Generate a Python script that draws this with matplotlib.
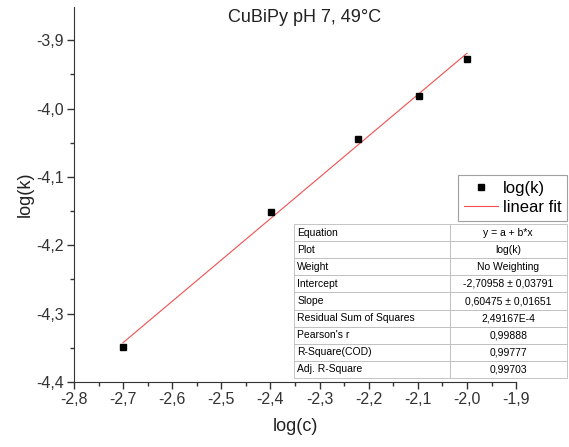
import numpy as np
import matplotlib
matplotlib.use("Agg")
import matplotlib.pyplot as plt
from matplotlib.ticker import MultipleLocator, FuncFormatter

# ==========================================================
# DATA
# ==========================================================

log_c = [-2.70, -2.398, -2.222, -2.097, -2.00]
log_k = [-4.349, -4.152, -4.045, -3.981, -3.928]

fit_intercept = -2.70958
fit_slope = 0.60475

table_labels = [
    "Equation", "Plot", "Weight", "Intercept", "Slope",
    "Residual Sum of Squares", "Pearson's r", "R-Square(COD)", "Adj. R-Square",
]
table_values = [
    "y = a + b*x", "log(k)", "No Weighting",
    "-2,70958 \u00b1 0,03791", "0,60475 \u00b1 0,01651",
    "2,49167E-4", "0,99888", "0,99777", "0,99703",
]

# ==========================================================
# PLOT
# ==========================================================

plt.rcParams["font.family"] = ["Liberation Sans", "DejaVu Sans"]

fig = plt.figure(figsize=(5.69, 4.47), dpi=100)
ax = fig.add_axes([0.130, 0.1454, 0.777, 0.838])

fit_x = np.array([min(log_c), max(log_c)])
ax.plot(fit_x, fit_intercept + fit_slope * fit_x,
        color="#f05050", linewidth=0.8, label="linear fit", zorder=2)
ax.plot(log_c, log_k, linestyle="none", marker="s", markersize=5,
        color="black", label="log(k)", zorder=3)

ax.set_xlim(-2.8, -1.9)
ax.set_ylim(-4.4, -3.852)

ax.xaxis.set_major_locator(MultipleLocator(0.1))
ax.xaxis.set_minor_locator(MultipleLocator(0.05))
ax.yaxis.set_major_locator(MultipleLocator(0.1))
ax.yaxis.set_minor_locator(MultipleLocator(0.05))

comma = FuncFormatter(lambda v, p: f"{v:.1f}".replace(".", ","))
ax.xaxis.set_major_formatter(comma)
ax.yaxis.set_major_formatter(comma)

ax.tick_params(which="major", direction="out", length=5, width=1,
               labelsize=11.5, colors="#333333", pad=2)
ax.tick_params(which="minor", direction="out", length=3, width=1,
               colors="#333333")

ax.spines["top"].set_visible(False)
ax.spines["right"].set_visible(False)
ax.spines["left"].set_color("#333333")
ax.spines["bottom"].set_color("#333333")

ax.set_xlabel("log(c)", fontsize=13, color="#222222")
ax.set_ylabel("log(k)", fontsize=13, color="#222222")
ax.xaxis.set_label_coords(0.5, -0.097)
ax.yaxis.set_label_coords(-0.0905, 0.5)

fig.text(305 / 569, 1 - 18 / 447, "CuBiPy pH 7, 49\u00b0C", fontsize=13,
         ha="center", va="center", color="#222222")

handles, labels = ax.get_legend_handles_labels()
leg = fig.legend(handles[::-1], labels[::-1],
                 loc="upper right", bbox_to_anchor=(0.9965, 0.6085),
                 fontsize=12, frameon=True, fancybox=False,
                 handlelength=2.0, borderpad=0.35, labelspacing=0.25,
                 handletextpad=0.3, borderaxespad=0)
leg.get_frame().set_edgecolor("#888888")
leg.get_frame().set_linewidth(0.8)

# fit results table
tab_ax = fig.add_axes([294 / 569, 1 - 378 / 447, 273 / 569, 154 / 447])
tab_ax.axis("off")
cells = [[a, b] for a, b in zip(table_labels, table_values)]
tbl = tab_ax.table(cellText=cells, colWidths=[0.57, 0.43],
                   bbox=[0, 0, 1, 1], cellLoc="left")
tbl.auto_set_font_size(False)
tbl.set_fontsize(7.5)
for (r, c), cell in tbl.get_celld().items():
    cell.set_edgecolor("#bbbbbb")
    cell.set_linewidth(0.6)
    cell.set_facecolor("white")
    if c == 1:
        cell.get_text().set_ha("center")
        cell._loc = "center"
    cell.PAD = 0.02

plt.savefig("out.png", dpi=100)
